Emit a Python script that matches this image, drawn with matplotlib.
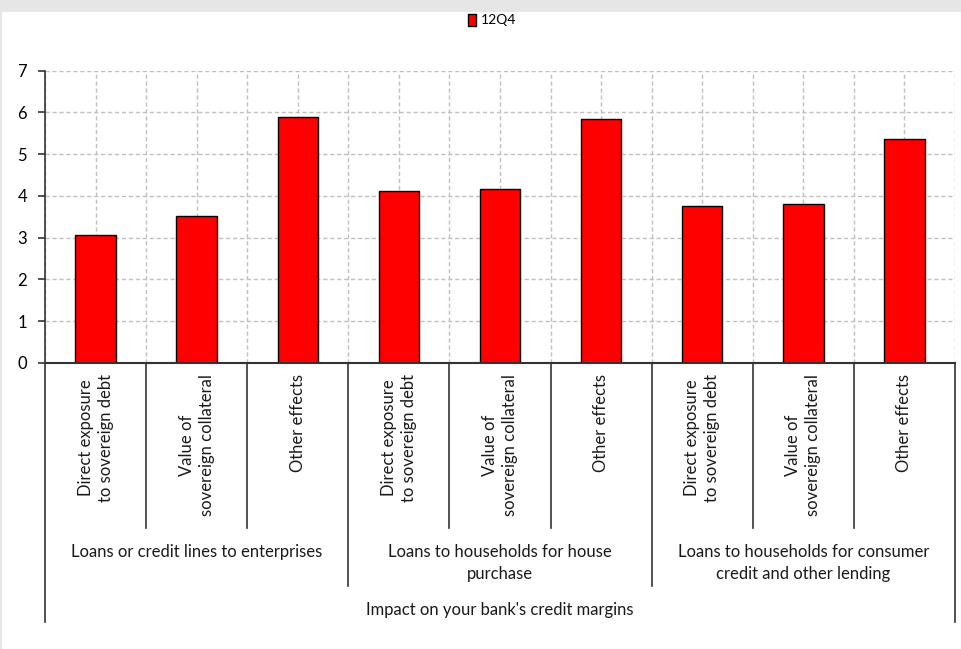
import matplotlib
matplotlib.use('Agg')
import matplotlib.pyplot as plt
import matplotlib.transforms as mtransforms
from matplotlib.lines import Line2D
from matplotlib.patches import Rectangle, Patch

# Data
series_name = '12Q4'
factors = ['Direct exposure\nto sovereign debt', 'Value of\nsovereign collateral', 'Other effects'] * 3
groups = ['Loans or credit lines to enterprises',
          'Loans to households for house\npurchase',
          'Loans to households for consumer\ncredit and other lending']
top_label = "Impact on your bank's credit margins"
values = [3.07, 3.53, 5.89, 4.12, 4.17, 5.83, 3.76, 3.80, 5.36]

plt.rcParams['font.family'] = ['Lato', 'DejaVu Sans']

W, H = 961, 649
fig = plt.figure(figsize=(W / 100, H / 100), dpi=100)
fig.patch.set_facecolor('white')

# grey frame at top and left
fig.patches.append(Rectangle((0, 1 - 12 / H), 1, 12 / H, transform=fig.transFigure,
                             facecolor='#e6e6e6', edgecolor='none', zorder=0))
fig.patches.append(Rectangle((0, 0), 2 / W, 1, transform=fig.transFigure,
                             facecolor='#e6e6e6', edgecolor='none', zorder=0))

def fy(py):
    return 1 - py / H

left, right, top, bottom = 45, 955, 70.6, 363
ax = fig.add_axes([left / W, fy(bottom), (right - left) / W, (bottom - top) / H])

x = list(range(len(values)))
ax.bar(x, values, width=0.4, color='#ff0000', edgecolor='black', linewidth=1, zorder=3)

ax.set_xlim(-0.5, len(values) - 0.5)
ax.set_ylim(0, 7)
ax.set_yticks(range(0, 8))
ax.set_xticks([i * 0.5 - 0.5 for i in range(2 * len(values) + 1)])
ax.tick_params(axis='x', length=0, labelbottom=False)
ax.tick_params(axis='y', length=5, width=1.2, color='#333333', labelsize=12, pad=8)
ax.grid(True, color='#c0c0c0', linestyle=(0, (3, 2)), linewidth=1, zorder=0)
for s in ['top', 'right']:
    ax.spines[s].set_visible(False)
ax.spines['left'].set_color('#333333')
ax.spines['left'].set_linewidth(1.2)
ax.spines['bottom'].set_color('#333333')
ax.spines['bottom'].set_linewidth(1.5)
ax.spines['bottom'].set_zorder(4)

# multi-level category axis
trans = mtransforms.blended_transform_factory(ax.transData, fig.transFigure)

def vline(xd, y0, y1):
    fig.add_artist(Line2D([xd, xd], [fy(y0), fy(y1)], transform=trans,
                          color='#333333', linewidth=1.2))

for i, lab in enumerate(factors):
    ax.text(i, fy(374), lab, transform=trans, rotation=90, ha='center', va='top',
            multialignment='center', fontsize=12, color='#1a1a1a', linespacing=1.3)

for b in range(len(values) + 1):
    xb = b - 0.5
    if b in (0, len(values)):
        vline(xb, bottom, 622)
    elif b % 3 == 0:
        vline(xb, bottom, 586)
    else:
        vline(xb, bottom, 528)

for g, lab in enumerate(groups):
    ax.text(g * 3 + 1, fy(544), lab, transform=trans, ha='center', va='top',
            multialignment='center', fontsize=12, color='#1a1a1a', linespacing=1.45)

ax.text((len(values) - 1) / 2, fy(602), top_label, transform=trans, ha='center', va='top',
        fontsize=12, color='#1a1a1a')

fig.legend(handles=[Patch(facecolor='#ff0000', edgecolor='black', linewidth=1, label=series_name)],
           loc='center', bbox_to_anchor=(492 / W, fy(20)), frameon=False, fontsize=10,
           handlelength=0.6, handleheight=1.0, handletextpad=0.3)

fig.savefig('out.png', dpi=100, facecolor='white')
